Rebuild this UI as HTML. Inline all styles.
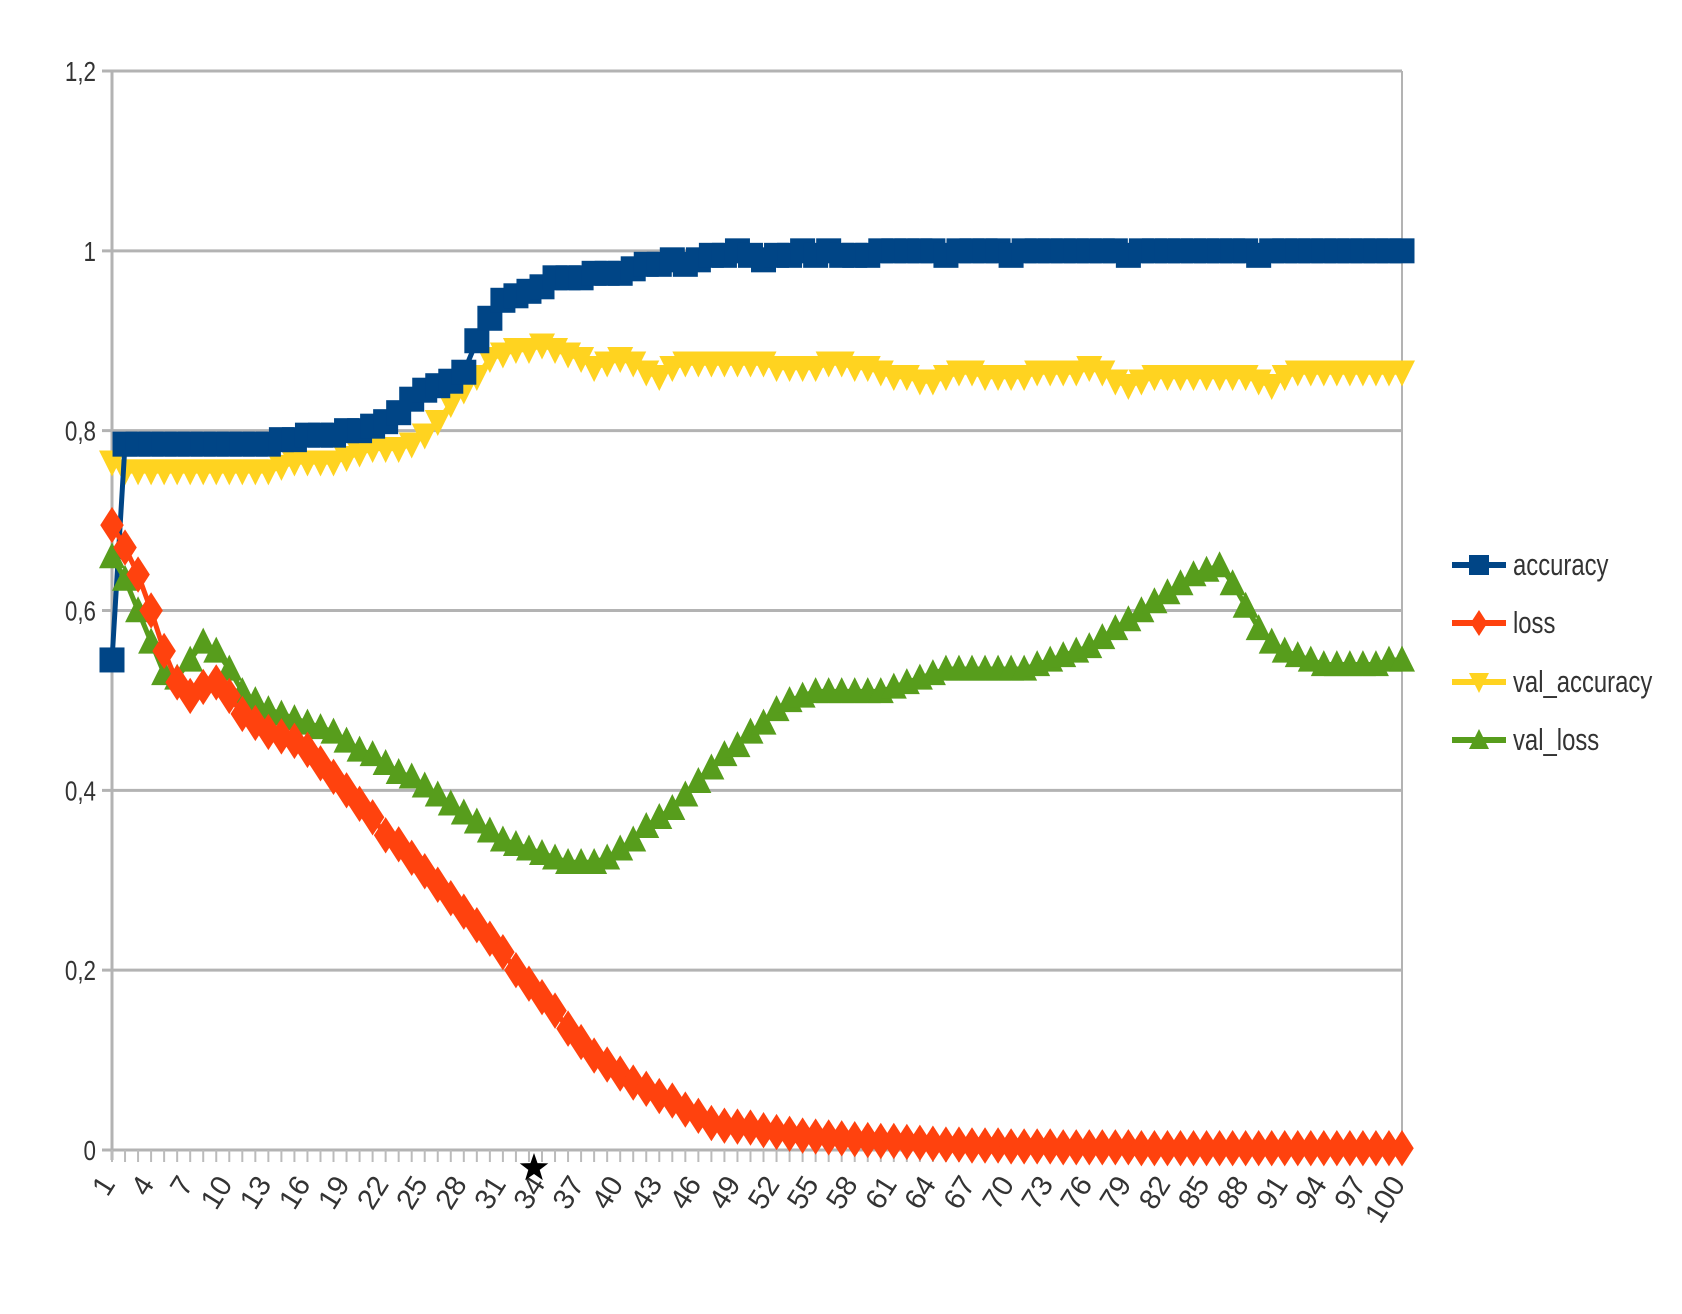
<!DOCTYPE html>
<html><head><meta charset="utf-8"><style>
html,body{margin:0;padding:0;background:#fff;}
svg{display:block;font-family:"Liberation Sans",sans-serif;}
</style></head><body>
<svg id="chart" width="1682" height="1314" viewBox="0 0 1682 1314" xmlns="http://www.w3.org/2000/svg">
<g id="grid"></g>
<g id="axes"></g>
<g id="series"></g>
<g id="legend"></g>
</svg>
<script>
const epochs = Array.from({length:100},(_,i)=>i+1);
const yTicks = [0,0.2,0.4,0.6,0.8,1,1.2];
const yTickLabels = ["0","0,2","0,4","0,6","0,8","1","1,2"];
const accuracy = [0.545,0.785,0.785,0.785,0.785,0.785,0.785,0.785,0.785,0.785,0.785,0.785,0.785,0.79,0.79,0.795,0.795,0.795,0.8,0.8,0.805,0.81,0.82,0.835,0.845,0.85,0.855,0.865,0.9,0.925,0.945,0.95,0.955,0.96,0.97,0.97,0.97,0.975,0.975,0.975,0.98,0.985,0.985,0.99,0.985,0.99,0.995,0.995,1.0,0.995,0.99,0.995,0.995,1.0,0.995,1.0,0.995,0.995,0.995,1.0,1.0,1.0,1.0,1.0,0.995,1.0,1.0,1.0,1.0,0.995,1.0,1.0,1.0,1.0,1.0,1.0,1.0,1.0,0.995,1.0,1.0,1.0,1.0,1.0,1.0,1.0,1.0,1.0,0.995,1.0,1.0,1.0,1.0,1.0,1.0,1.0,1.0,1.0,1.0,1.0];
const loss = [0.695,0.67,0.64,0.6,0.555,0.52,0.505,0.515,0.52,0.505,0.485,0.475,0.465,0.46,0.455,0.445,0.43,0.415,0.4,0.385,0.37,0.35,0.34,0.325,0.31,0.295,0.28,0.265,0.25,0.235,0.22,0.2,0.185,0.17,0.155,0.135,0.12,0.105,0.095,0.085,0.075,0.068,0.06,0.055,0.045,0.038,0.03,0.027,0.026,0.025,0.022,0.02,0.018,0.016,0.015,0.014,0.013,0.012,0.011,0.01,0.01,0.009,0.008,0.007,0.006,0.006,0.005,0.005,0.005,0.004,0.004,0.004,0.004,0.003,0.003,0.003,0.003,0.003,0.003,0.002,0.002,0.002,0.002,0.002,0.002,0.002,0.002,0.002,0.002,0.002,0.002,0.002,0.002,0.002,0.002,0.002,0.002,0.002,0.002,0.002];
const valAccuracy = [0.765,0.755,0.755,0.755,0.755,0.755,0.755,0.755,0.755,0.755,0.755,0.755,0.755,0.76,0.765,0.765,0.765,0.765,0.77,0.775,0.78,0.78,0.78,0.785,0.795,0.81,0.83,0.845,0.86,0.88,0.885,0.89,0.89,0.895,0.89,0.885,0.88,0.87,0.875,0.88,0.875,0.865,0.86,0.87,0.875,0.875,0.875,0.875,0.875,0.875,0.875,0.87,0.87,0.87,0.87,0.875,0.875,0.87,0.87,0.865,0.86,0.86,0.855,0.855,0.86,0.865,0.865,0.86,0.86,0.86,0.86,0.865,0.865,0.865,0.865,0.87,0.865,0.855,0.85,0.855,0.86,0.86,0.86,0.86,0.86,0.86,0.86,0.86,0.855,0.85,0.86,0.865,0.865,0.865,0.865,0.865,0.865,0.865,0.865,0.865];
const valLoss = [0.66,0.635,0.6,0.565,0.53,0.525,0.545,0.565,0.555,0.535,0.51,0.5,0.49,0.485,0.48,0.475,0.47,0.465,0.455,0.445,0.44,0.43,0.42,0.415,0.405,0.395,0.385,0.375,0.365,0.355,0.345,0.34,0.335,0.33,0.325,0.32,0.32,0.32,0.325,0.335,0.345,0.36,0.37,0.38,0.395,0.41,0.425,0.44,0.45,0.465,0.475,0.49,0.5,0.505,0.51,0.51,0.51,0.51,0.51,0.51,0.515,0.52,0.525,0.53,0.535,0.535,0.535,0.535,0.535,0.535,0.535,0.54,0.545,0.55,0.555,0.56,0.57,0.58,0.59,0.6,0.61,0.62,0.63,0.64,0.645,0.65,0.63,0.605,0.58,0.565,0.555,0.55,0.545,0.54,0.54,0.54,0.54,0.54,0.545,0.545];

const NS="http://www.w3.org/2000/svg";
const X0=112,X1=1402,Y0=1150,Y1=71;
function xs(i){return X0+(i-1)*(X1-X0)/99;}
function ys(v){return Y0-(v/1.2)*(Y0-Y1);}
function mk(tag,attrs,parent){const e=document.createElementNS(NS,tag);for(const k in attrs)e.setAttribute(k,attrs[k]);parent.appendChild(e);return e;}

const grid=document.getElementById('grid');
const axes=document.getElementById('axes');
yTicks.forEach((t,k)=>{
  const l=mk('line',{x1:X0-10,x2:X1,y1:ys(t),y2:ys(t),stroke:'#b3b3b3','stroke-width':3},grid);
  
  
  const tx=mk('text',{x:96,y:ys(t)+10,'text-anchor':'end','font-size':28,fill:'#333',transform:`translate(96 0) scale(0.8 1) translate(-96 0)`},axes);
  tx.textContent=yTickLabels[k];
  
  
});
const ax=mk('line',{x1:X0,x2:X0,y1:Y1,y2:Y0+10,stroke:'#b3b3b3','stroke-width':3},axes);


const rx=mk('line',{x1:X1,x2:X1,y1:Y1,y2:Y0,stroke:'#b3b3b3','stroke-width':2},axes);


epochs.forEach(e=>{
  const t=mk('line',{x1:xs(e),x2:xs(e),y1:Y0,y2:Y0+12,stroke:'#bbb','stroke-width':2},axes);
  
  
  if((e-1)%3===0){
    const x=xs(e)+4,y=Y0+34;
    const tx=mk('text',{x:x,y:y,'text-anchor':'end','font-size':29,fill:'#333',transform:`rotate(-58 ${x} ${y})`},axes);
    tx.textContent=String(e);
    
    
  }
});

const series=document.getElementById('series');
function marker(shape,x,y,col,g,s){
  let el;
  if(shape==='square') el=mk('rect',{x:x-s/2,y:y-s/2,width:s,height:s,fill:col},g);
  else if(shape==='diamond') el=mk('polygon',{points:`${x},${y-s*0.65} ${x+s*0.42},${y} ${x},${y+s*0.65} ${x-s*0.42},${y}`,fill:col},g);
  else if(shape==='down') el=mk('polygon',{points:`${x-s/2},${y-s*0.45} ${x+s/2},${y-s*0.45} ${x},${y+s*0.55}`,fill:col},g);
  else el=mk('polygon',{points:`${x-s/2},${y+s*0.45} ${x+s/2},${y+s*0.45} ${x},${y-s*0.55}`,fill:col},g);
  return el;
}
const defs=[
 {name:'accuracy',data:accuracy,col:'#004586',shape:'square',s:25},
 {name:'loss',data:loss,col:'#ff420e',shape:'diamond',s:28},
 {name:'val_accuracy',data:valAccuracy,col:'#ffd320',shape:'down',s:26},
 {name:'val_loss',data:valLoss,col:'#579d1c',shape:'up',s:26}
];
const order=[2,0,3,1];
order.forEach(idx=>{
  const d=defs[idx];
  const g=mk('g',{},series);
  
  
  const pts=d.data.map((v,i)=>xs(epochs[i])+','+ys(v)).join(' ');
  const pl=mk('polyline',{points:pts,fill:'none',stroke:d.col,'stroke-width':5},g);
  
  
  d.data.forEach((v,i)=>{
    const m=marker(d.shape,xs(epochs[i]),ys(v),d.col,g,d.s);
    
    
  });
});
const sx=xs(34)-8,sy=Y0+18,r1=15,r2=6;
let sp=[];for(let k=0;k<10;k++){const r=k%2?r2:r1;const a=-Math.PI/2+k*Math.PI/5;sp.push((sx+r*Math.cos(a))+','+(sy+r*Math.sin(a)));}
const star=mk('polygon',{points:sp.join(' '),fill:'#000'},axes);



const legend=document.getElementById('legend');
const ly=[565,623,682,740];
defs.forEach((d,k)=>{
  const g=mk('g',{},legend);
  
  
  mk('line',{x1:1452,x2:1506,y1:ly[k],y2:ly[k],stroke:d.col,'stroke-width':6},g);
  marker(d.shape,1479,ly[k],d.col,g,20);
  const tx=mk('text',{x:1513,y:ly[k]+10,'font-size':31,fill:'#333',transform:`translate(1513 0) scale(0.77 1) translate(-1513 0)`},g);
  tx.textContent=d.name;
});
</script>
</body></html>
